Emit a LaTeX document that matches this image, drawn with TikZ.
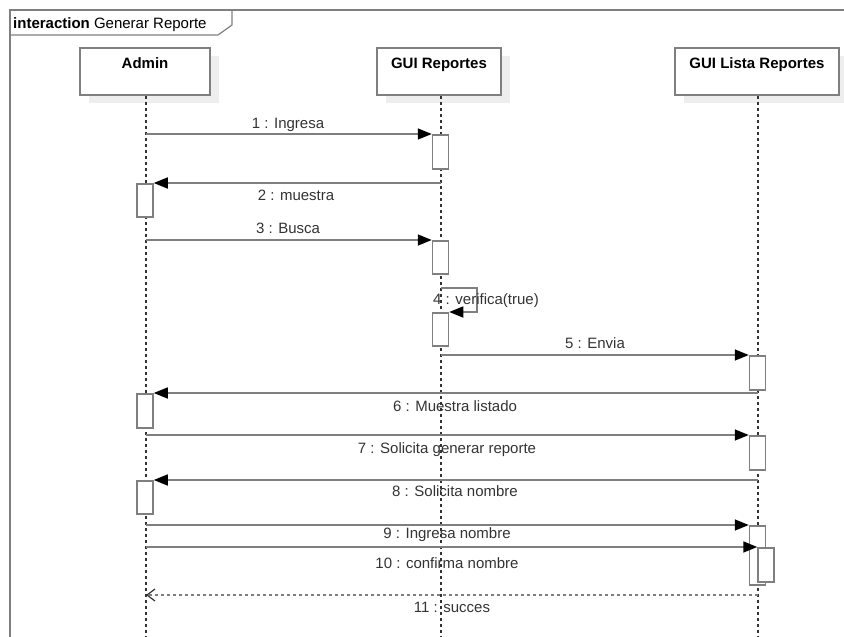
\documentclass[tikz,border=0pt]{standalone}
\usepackage{fontspec}
\setmainfont{Liberation Sans}
\usetikzlibrary{arrows.meta}
\definecolor{lnc}{HTML}{7F7F7F}
\definecolor{txc}{HTML}{333333}
\definecolor{shd}{HTML}{EEEEEE}
\definecolor{llc}{HTML}{333333}
\tikzset{
  headbox/.style={draw=lnc, line width=1.5pt, fill=white, minimum height=47pt, inner sep=0pt},
  headshadow/.style={fill=shd, draw=none, minimum height=47pt, inner sep=0pt},
  headtitle/.style={font=\fontsize{15}{18}\selectfont\bfseries, text=black, anchor=base, inner sep=0pt},
  lifeline/.style={draw=llc, line width=1.2pt, dash pattern=on 3pt off 3pt},
  actbox/.style={draw=lnc, line width=1.5pt, fill=white, minimum width=16pt, inner sep=0pt, anchor=north},
  msg/.style={draw=lnc, line width=1.5pt, -{Triangle[length=14pt,width=11pt,fill=black,color=black]}},
  retmsg/.style={draw=lnc, line width=1.5pt, dash pattern=on 3pt off 3pt, -{Straight Barb[length=8pt,width=12pt,line width=1.2pt,color=llc]}},
  msglabel/.style={font=\fontsize{15}{18}\selectfont, text=txc, anchor=base, inner sep=0pt},
  framestyle/.style={draw=lnc, line width=2pt}
}
\begin{document}
\begin{tikzpicture}[x=1pt,y=-1pt]
\useasboundingbox (0,0) rectangle (844,637);
% frame
\draw[framestyle] (10,637) -- (10,10) -- (844,10);
\draw[draw=lnc, line width=1.2pt] (10,35) -- (218,35) -- (232,25) -- (232,10);
\node[anchor=base west, inner sep=0pt, font=\fontsize{15}{18}\selectfont, text=black] (ftitle) at (13,28) {\textbf{interaction} Generar Reporte};

% head shadows
\node[headshadow, minimum width=130pt] (sA) at (153.5,79.5) {};
\node[headshadow, minimum width=124pt] (sR) at (447.5,79.5) {};
\node[headshadow, minimum width=164pt] (sL) at (765.5,79.5) {};
% lifelines
\coordinate (eA) at (146,637);
\coordinate (eR) at (441,637);
\coordinate (eL) at (758,637);
% heads
\node[headbox, minimum width=130pt] (hA) at (145,71.5) {};
\node[headbox, minimum width=124pt] (hR) at (439,71.5) {};
\node[headbox, minimum width=164pt] (hL) at (757,71.5) {};
\node[headtitle] (tA) at (145,68) {Admin};
\node[headtitle] (tR) at (439,68) {GUI Reportes};
\node[headtitle] (tL) at (757,68) {GUI Lista Reportes};
\draw[lifeline] (hA.south -| eA) -- (eA);
\draw[lifeline] (hR.south -| eR) -- (eR);
\draw[lifeline] (hL.south -| eL) -- (eL);

% activations
\node[actbox, minimum height=34pt] (aR1) at (440.5,134) {};
\node[actbox, minimum height=33pt] (aA2) at (145,183) {};
\node[actbox, minimum height=33pt] (aR3) at (440.5,240) {};
\node[actbox, minimum height=33pt] (aR4) at (440.5,312) {};
\node[actbox, minimum height=34pt] (aL5) at (757.5,355) {};
\node[actbox, minimum height=34pt] (aA6) at (145,393) {};
\node[actbox, minimum height=34pt] (aL7) at (757.5,435) {};
\node[actbox, minimum height=33pt] (aA8) at (145,480) {};
\node[actbox, minimum height=59pt] (aL9) at (757.5,525) {};
\node[actbox, minimum height=34pt] (aL10) at (766,547) {};

% message start points
\coordinate (s1) at (146,134);
\coordinate (s2) at (441,183);
\coordinate (s3) at (146,240);
\coordinate (s4) at (441,288);
\coordinate (s5) at (441,355);
\coordinate (s6) at (758,393);
\coordinate (s7) at (146,435);
\coordinate (s8) at (758,480);
\coordinate (s9) at (146,525);
\coordinate (s10) at (146,547);
\coordinate (s11) at (758,595);
\coordinate (e11) at (146,595);

% messages
\draw[msg] (s1) -- (aR1.north west);
\draw[msg] (s2) -- (aA2.north east);
\draw[msg] (s3) -- (aR3.north west);
\draw[msg] (s4) -- (477,288) -- (477,312) -- (aR4.north east);
\draw[msg] (s5) -- (aL5.north west);
\draw[msg] (s6) -- (aA6.north east);
\draw[msg] (s7) -- (aL7.north west);
\draw[msg] (s8) -- (aA8.north east);
\draw[msg] (s9) -- (aL9.north west);
\draw[msg] (s10) -- (aL10.north west);
\draw[retmsg] (s11) -- (e11);

% labels
\node[msglabel] (l1) at (288,128) {1 : Ingresa};
\node[msglabel] (l2) at (296,200) {2 : muestra};
\node[msglabel] (l3) at (288,233) {3 : Busca};
\node[msglabel, anchor=base west] (l4) at (433,304) {4 : verifica(true)};
\node[msglabel] (l5) at (595,348) {5 : Envia};
\node[msglabel] (l6) at (455,411) {6 : Muestra listado};
\node[msglabel] (l7) at (447,453) {7 : Solicita generar reporte};
\node[msglabel] (l8) at (455,496) {8 : Solicita nombre};
\node[msglabel] (l9) at (447,538) {9 : Ingresa nombre};
\node[msglabel] (l10) at (447,568) {10 : confirma nombre};
\node[msglabel] (l11) at (452,612) {11 : succes};
\end{tikzpicture}
\end{document}
